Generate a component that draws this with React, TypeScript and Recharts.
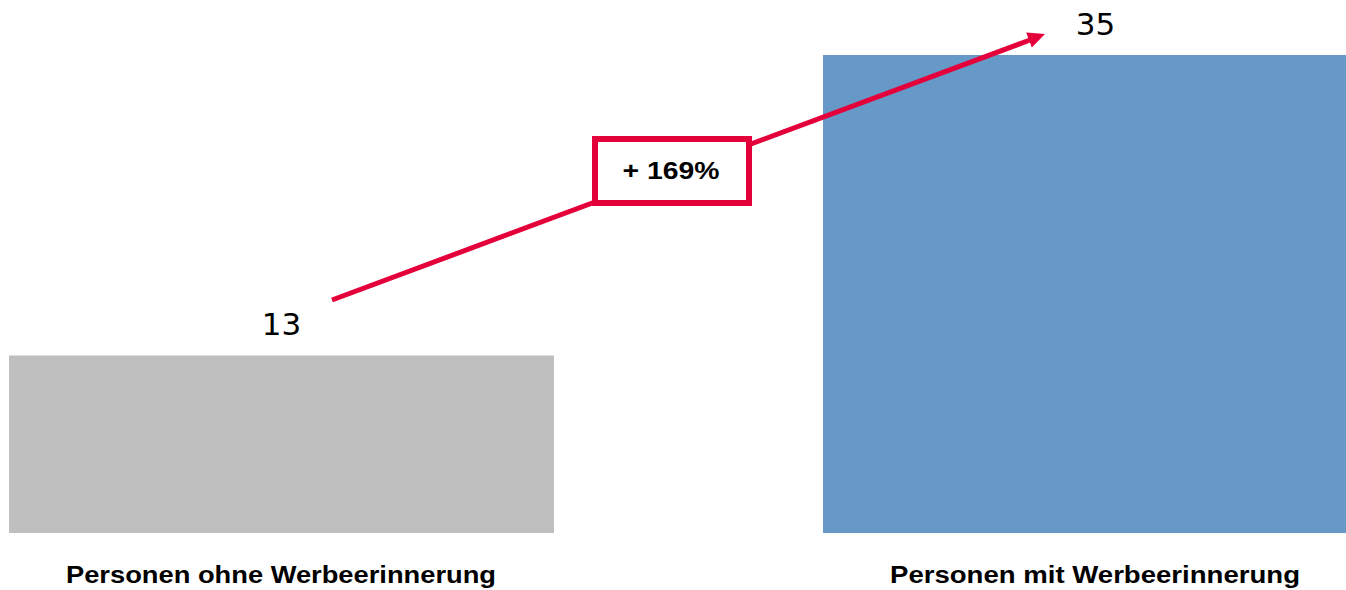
import React from "react";
import { BarChart, Bar, XAxis, YAxis, Cell, LabelList } from "recharts";

const categories = ["Personen ohne Werbeerinnerung", "Personen mit Werbeerinnerung"];
const values = [13, 35];
const barColors = ["#BFBFBF", "#6698C8"];
const changeLabel = "+ 169%";

const RED = "#E4003B";

const data = categories.map((name, i) => ({ name, value: values[i] }));

function CategoryTick(props: any) {
  const { x, y, payload } = props;
  const widths: Record<string, number> = {
    "Personen ohne Werbeerinnerung": 430,
    "Personen mit Werbeerinnerung": 410,
  };
  return (
    <text
      x={x}
      y={y + 42}
      textAnchor="middle"
      fontFamily="Liberation Sans, Arial, sans-serif"
      fontWeight="bold"
      fontSize={23}
      fill="#000"
      textLength={widths[payload.value]}
      lengthAdjust="spacingAndGlyphs"
    >
      {payload.value}
    </text>
  );
}

export default function App() {
  return (
    <div
      style={{
        position: "absolute",
        left: 0,
        top: 0,
        width: 1346,
        height: 590,
        overflow: "hidden",
        background: "#fff",
      }}
    >
      <div style={{ position: "absolute", left: -126.5, top: 0 }}>
        <BarChart
          width={1628}
          height={590}
          data={data}
          margin={{ top: 55, right: 0, bottom: 27, left: 0 }}
        >
          <YAxis hide domain={[0, 35]} />
          <XAxis
            dataKey="name"
            axisLine={false}
            tickLine={false}
            tick={<CategoryTick />}
            interval={0}
          />
          <Bar dataKey="value" barSize={545} isAnimationActive={false}>
            {data.map((d, i) => (
              <Cell key={d.name} fill={barColors[i]} />
            ))}
            <LabelList
              dataKey="value"
              position="top"
              offset={20}
              fill="#000"
              fontSize={31}
              fontFamily="DejaVu Sans, Verdana, sans-serif"
            />
          </Bar>
        </BarChart>
      </div>
      {/* growth arrow + box */}
      <svg
        width={1346}
        height={590}
        style={{ position: "absolute", left: 0, top: 0, pointerEvents: "none" }}
      >
        <line x1={332} y1={300} x2={1030} y2={40} stroke={RED} strokeWidth={5} />
        <polygon points="1045,34 1031.8,47.5 1026.2,32.5" fill={RED} />
        <rect x={595} y={139} width={154} height={64} fill="#fff" stroke={RED} strokeWidth={6} />
        <text
          x={671}
          y={179}
          textAnchor="middle"
          fontFamily="Liberation Sans, Arial, sans-serif"
          fontWeight="bold"
          fontSize={24}
          fill="#000"
          textLength={97}
          lengthAdjust="spacingAndGlyphs"
        >
          {changeLabel}
        </text>
      </svg>
    </div>
  );
}
